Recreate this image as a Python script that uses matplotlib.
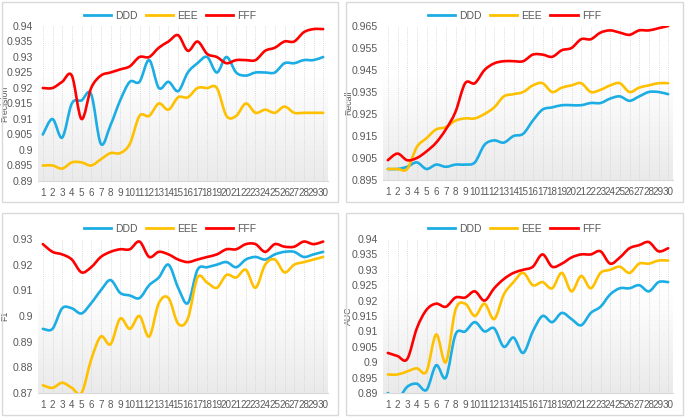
import numpy as np
import matplotlib
matplotlib.use('Agg')
import matplotlib.pyplot as plt
from matplotlib.path import Path
from matplotlib.patches import PathPatch, Rectangle
from matplotlib.lines import Line2D

#Epoch index 1..30 on every panel:
epochs = list(range(1, 31))
series_names = ['DDD', 'EEE', 'FFF']

#Precision values:
prec_ddd = [0.905, 0.910, 0.904, 0.915, 0.916, 0.918, 0.902, 0.908, 0.916, 0.922,
            0.922, 0.929, 0.920, 0.922, 0.919, 0.925, 0.928, 0.930, 0.925, 0.930,
            0.925, 0.924, 0.925, 0.925, 0.925, 0.928, 0.928, 0.929, 0.929, 0.930]
prec_eee = [0.895, 0.895, 0.894, 0.896, 0.896, 0.895, 0.897, 0.899, 0.899, 0.902,
            0.911, 0.911, 0.915, 0.913, 0.917, 0.917, 0.920, 0.920, 0.920, 0.911,
            0.911, 0.915, 0.912, 0.913, 0.912, 0.914, 0.912, 0.912, 0.912, 0.912]
prec_fff = [0.920, 0.920, 0.922, 0.924, 0.910, 0.920, 0.924, 0.925, 0.926, 0.927,
            0.930, 0.930, 0.933, 0.935, 0.937, 0.932, 0.935, 0.931, 0.930, 0.928,
            0.929, 0.929, 0.929, 0.932, 0.933, 0.935, 0.935, 0.938, 0.939, 0.939]

#Recall:
rec_ddd = [0.900, 0.900, 0.901, 0.903, 0.900, 0.902, 0.901, 0.902, 0.902, 0.903,
           0.911, 0.913, 0.912, 0.915, 0.916, 0.922, 0.927, 0.928, 0.929, 0.929,
           0.929, 0.930, 0.930, 0.932, 0.933, 0.931, 0.933, 0.935, 0.935, 0.934]
rec_eee = [0.900, 0.900, 0.900, 0.910, 0.914, 0.918, 0.919, 0.922, 0.923, 0.923,
           0.925, 0.928, 0.933, 0.934, 0.935, 0.938, 0.939, 0.935, 0.937, 0.938,
           0.939, 0.935, 0.936, 0.938, 0.939, 0.935, 0.937, 0.938, 0.939, 0.939]
rec_fff = [0.904, 0.907, 0.904, 0.905, 0.908, 0.912, 0.918, 0.926, 0.939, 0.939,
           0.945, 0.948, 0.949, 0.949, 0.949, 0.952, 0.952, 0.951, 0.954, 0.955,
           0.959, 0.959, 0.962, 0.963, 0.962, 0.961, 0.963, 0.963, 0.964, 0.965]

#F1:
f1_ddd = [0.895, 0.895, 0.903, 0.903, 0.901, 0.905, 0.910, 0.914, 0.909, 0.908,
          0.907, 0.912, 0.915, 0.920, 0.911, 0.905, 0.918, 0.919, 0.920, 0.921,
          0.919, 0.922, 0.923, 0.922, 0.924, 0.925, 0.925, 0.923, 0.924, 0.925]
f1_eee = [0.873, 0.872, 0.874, 0.872, 0.870, 0.883, 0.892, 0.889, 0.899, 0.895,
          0.900, 0.892, 0.905, 0.907, 0.897, 0.899, 0.915, 0.913, 0.911, 0.916,
          0.915, 0.918, 0.911, 0.920, 0.922, 0.917, 0.920, 0.921, 0.922, 0.923]
f1_fff = [0.928, 0.925, 0.924, 0.922, 0.917, 0.919, 0.923, 0.925, 0.926, 0.926,
          0.929, 0.923, 0.925, 0.924, 0.922, 0.921, 0.922, 0.923, 0.924, 0.926,
          0.926, 0.928, 0.928, 0.925, 0.928, 0.927, 0.927, 0.929, 0.928, 0.929]

#AUC:
auc_ddd = [0.890, 0.888, 0.892, 0.893, 0.891, 0.899, 0.895, 0.909, 0.910, 0.913,
           0.910, 0.911, 0.905, 0.908, 0.903, 0.910, 0.915, 0.913, 0.916, 0.914,
           0.912, 0.916, 0.918, 0.922, 0.924, 0.924, 0.925, 0.923, 0.926, 0.926]
auc_eee = [0.896, 0.896, 0.897, 0.898, 0.897, 0.909, 0.900, 0.917, 0.919, 0.915,
           0.919, 0.914, 0.922, 0.926, 0.929, 0.925, 0.926, 0.924, 0.929, 0.923,
           0.928, 0.924, 0.929, 0.930, 0.931, 0.929, 0.932, 0.932, 0.933, 0.933]
auc_fff = [0.903, 0.902, 0.901, 0.911, 0.917, 0.919, 0.918, 0.921, 0.921, 0.923,
           0.920, 0.924, 0.927, 0.929, 0.930, 0.931, 0.935, 0.931, 0.932, 0.934,
           0.935, 0.935, 0.936, 0.932, 0.934, 0.937, 0.938, 0.939, 0.936, 0.937]

colors = ['#1CADE4', '#FFC000', '#FF0000']
txt_gray = '#595959'
W, H = 685, 417

plt.rcParams['font.family'] = ['Liberation Sans Narrow', 'Liberation Sans', 'DejaVu Sans']


def smooth_path(x, y):
    #Excel-like smoothed line: cubic bezier through every data point
    x = np.asarray(x, float)
    y = np.asarray(y, float)
    pts = np.column_stack([x, y])
    n = len(pts)
    verts = [pts[0]]
    codes = [Path.MOVETO]
    for i in range(n - 1):
        p0 = pts[i - 1] if i > 0 else pts[i]
        p1 = pts[i]
        p2 = pts[i + 1]
        p3 = pts[i + 2] if i + 2 < n else pts[i + 1]
        c1 = p1 + (p2 - p0) / 6.0
        c2 = p2 - (p3 - p1) / 6.0
        verts += [c1, c2, p2]
        codes += [Path.CURVE4] * 3
    return Path(verts, codes)


def px_axes(l, r, t, b):
    return [l / W, 1 - b / H, (r - l) / W, (b - t) / H]


fig = plt.figure(figsize=(6.85, 4.17), dpi=100)
fig.patch.set_facecolor('white')

#Panel frames (pixel boxes): left, top, right, bottom
frames = [(2, 2, 338, 202), (346, 2, 683, 202), (2, 213, 338, 415), (346, 213, 683, 415)]
for (l, t, r, b) in frames:
    fig.add_artist(Rectangle((l / W, 1 - b / H), (r - l) / W, (b - t) / H, transform=fig.transFigure,
                             fill=False, edgecolor='#d9d9d9', linewidth=1.0))

panels = [
    ('Precision', [prec_ddd, prec_eee, prec_fff], (0.89, 0.94), np.arange(0.89, 0.9401, 0.005), (38, 328, 26, 181), 16),
    ('Recall', [rec_ddd, rec_eee, rec_fff], (0.895, 0.965), np.arange(0.895, 0.9651, 0.01), (383, 673, 26, 180), 16),
    ('F1', [f1_ddd, f1_eee, f1_fff], (0.87, 0.93), np.arange(0.87, 0.9301, 0.01), (38, 328, 239, 393), 229),
    ('AUC', [auc_ddd, auc_eee, auc_fff], (0.89, 0.94), np.arange(0.89, 0.9401, 0.005), (383, 673, 239, 393), 229),
]

gcmap = matplotlib.colors.LinearSegmentedColormap.from_list('g', ['#eaeaea', '#ffffff'])

for (name, data, ylim, yticks, box, leg_y), frame in zip(panels, frames):
    l, r, t, b = box
    rect = px_axes(l, r, t, b)
    ax = fig.add_axes(rect)
    ax.set_xlim(0.5, 30.5)
    ax.set_ylim(*ylim)
    #light gradient background, white at top, gray at bottom
    grad = np.clip(np.linspace(1, 0, 256).reshape(-1, 1) * 1.5, 0, 1)
    ax.imshow(grad, cmap=gcmap, aspect='auto', extent=[0, 1, 0, 1], transform=ax.transAxes,
              zorder=0, vmin=0, vmax=1)
    for e in epochs:
        ax.axvline(e, color='#d0d0d0', linestyle=(0, (1, 1.5)), linewidth=0.6, zorder=1)
    for vals, c in zip(data, colors):
        ax.add_patch(PathPatch(smooth_path(epochs, vals), facecolor='none', edgecolor=c,
                               linewidth=1.9, zorder=3, capstyle='round', joinstyle='round'))
    ax.set_xticks(epochs)
    ax.set_xticklabels([str(e) for e in epochs])
    ax.set_yticks(yticks)
    ax.set_yticklabels([('%.3f' % v).rstrip('0').rstrip('.') for v in yticks])
    ax.tick_params(axis='x', length=0, labelsize=7.1, colors=txt_gray, pad=5)
    ax.tick_params(axis='y', length=0, labelsize=7.6, colors=txt_gray, pad=3.5)
    for s in ['top', 'right', 'left']:
        ax.spines[s].set_visible(False)
    ax.spines['bottom'].set_color('#d9d9d9')
    ax.set_ylabel(name, fontsize=6.3, color=txt_gray)
    #y label sits about 7px right of the panel frame
    ax.yaxis.set_label_coords((frame[0] + 7 - l) / (r - l), 0.5)
    handles = [Line2D([0], [0], color=c, linewidth=2) for c in colors]
    cx = (frame[0] + frame[2]) / 2 / W
    fig.legend(handles, series_names, loc='center', bbox_to_anchor=(cx, 1 - leg_y / H), ncol=3, frameon=False,
               fontsize=7.5, labelcolor=txt_gray, handlelength=2.6, handletextpad=0.4, columnspacing=0.8)

plt.savefig('out.png', dpi=100)
plt.close()
